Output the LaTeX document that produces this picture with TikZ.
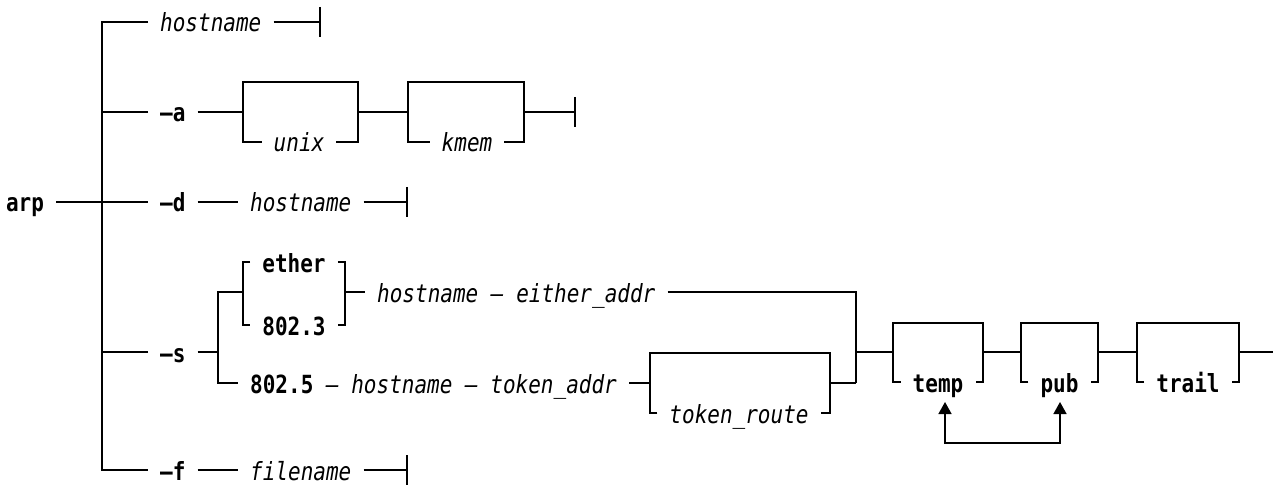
\documentclass[tikz,border=0pt]{standalone}
\usepackage{fontspec}
\newfontfamily\djm[FakeStretch=0.84]{DejaVu Sans Mono}
\usetikzlibrary{arrows.meta}
\tikzset{
  base/.style={inner xsep=12pt, inner ysep=0pt, text height=20pt, text depth=0pt},
  kw/.style={base, font=\djm\bfseries\fontsize{25}{29}\selectfont},
  var/.style={base, font=\djm\itshape\fontsize{25}{29}\selectfont},
  rail/.style={line width=1.6pt},
  arr/.style={line width=1.6pt, {Triangle[width=13pt,length=12pt]}-{Triangle[width=13pt,length=12pt]}}
}
\begin{document}
\begin{tikzpicture}[x=1pt,y=-1pt]
\useasboundingbox (0,0) rectangle (1273,486);
% text nodes
\node[kw] (arp) at (25,202) {arp};
\node[var,anchor=west] (h1) at (148,22) {hostname};
\node[kw,anchor=west] (a) at (148,112) {–a};
\node[var] (unix) at (299,142) {unix};
\node[var] (kmem) at (467,142) {kmem};
\node[kw,anchor=west] (d) at (148,202) {–d};
\node[var,anchor=west] (h2) at (238,202) {hostname};
\node[kw,anchor=west] (s) at (148,352) {–s};
\node[kw] (ether) at (294,262) {ether};
\node[kw] (e8023) at (294,325) {802.3};
\node[var,anchor=west] (either) at (365,292) {hostname – either\_addr};
\node[var,anchor=west] (tok) at (238,383) {{\upshape\bfseries 802.5} – hostname – token\_addr};
\node[var] (troute) at (739,413) {token\_route};
\node[kw] (temp) at (938,382) {temp};
\node[kw] (pub) at (1059.5,382) {pub};
\node[kw] (trail) at (1188,382) {trail};
\node[kw,anchor=west] (f) at (148,470) {–f};
\node[var,anchor=west] (fn) at (238,470) {filename};
% coordinates
\coordinate (jb) at (102,470);
\coordinate (e1) at (320,22);
\coordinate (u1) at (243,82);
\coordinate (u2) at (358,82);
\coordinate (k1) at (408,82);
\coordinate (k2) at (524,82);
\coordinate (ea) at (575,112);
\coordinate (ed) at (407,202);
\coordinate (ef) at (407,470);
\coordinate (sj) at (218,352);
\coordinate (bL) at (243,292);
\coordinate (bR) at (345,292);
\coordinate (sj2) at (218,383);
\coordinate (t1) at (650,353);
\coordinate (t2) at (830,353);
\coordinate (jr2) at (856,383);
\coordinate (jm) at (856,352);
\coordinate (tp1) at (893,323);
\coordinate (tp2) at (983,323);
\coordinate (pb1) at (1021,323);
\coordinate (pb2) at (1098,323);
\coordinate (tl1) at (1137,323);
\coordinate (tl2) at (1239,323);
\coordinate (fin) at (1273,352);
\coordinate (ta) at (945,402);
\coordinate (pa) at (1060,402);
% trunk
\draw[rail] (h1.west) -| (jb) -- (f.west);
\draw[rail] (a.west) -- (a.west -| jb);
\draw[rail] (arp.east) -- (d.west);
\draw[rail] (s.west) -- (s.west -| jb);
% hostname row
\draw[rail] (h1.east) -- (e1);
\draw[rail] ([yshift=15pt]e1) -- ([yshift=-15pt]e1);
% -a row
\draw[rail] (a.east) -- (a.east -| u1);
\draw[rail] (unix.west) -| (u1) -- (u2) |- (unix.east);
\draw[rail] (a.east -| u2) -- (a.east -| k1);
\draw[rail] (kmem.west) -| (k1) -- (k2) |- (kmem.east);
\draw[rail] (a.east -| k2) -- (ea);
\draw[rail] ([yshift=15pt]ea) -- ([yshift=-15pt]ea);
% -d row
\draw[rail] (d.east) -- (h2.west);
\draw[rail] (h2.east) -- (ed);
\draw[rail] ([yshift=15pt]ed) -- ([yshift=-15pt]ed);
% -s row
\draw[rail] (s.east) -- (sj);
\draw[rail] (bL) -| (sj2) -- (tok.west);
\draw[rail] (ether.west) -| (bL) |- (e8023.west);
\draw[rail] (ether.east) -| (bR) |- (e8023.east);
\draw[rail] (bR) -- (either.west);
\draw[rail] (either.east) -| (jr2);
\draw[rail] (tok.east) -- (tok.east -| t1);
\draw[rail] (troute.west) -| (t1) -- (t2) |- (troute.east);
\draw[rail] (tok.east -| t2) -- (jr2);
\draw[rail] (jm) -- (jm -| tp1);
\draw[rail] (temp.west) -| (tp1) -- (tp2) |- (temp.east);
\draw[rail] (jm -| tp2) -- (jm -| pb1);
\draw[rail] (pub.west) -| (pb1) -- (pb2) |- (pub.east);
\draw[rail] (jm -| pb2) -- (jm -| tl1);
\draw[rail] (trail.west) -| (tl1) -- (tl2) |- (trail.east);
\draw[rail] (jm -| tl2) -- (fin);
\draw[arr] (ta) -- ++(0,41) -| (pa);
% -f row
\draw[rail] (f.east) -- (fn.west);
\draw[rail] (fn.east) -- (ef);
\draw[rail] ([yshift=15pt]ef) -- ([yshift=-15pt]ef);
\end{tikzpicture}
\end{document}
